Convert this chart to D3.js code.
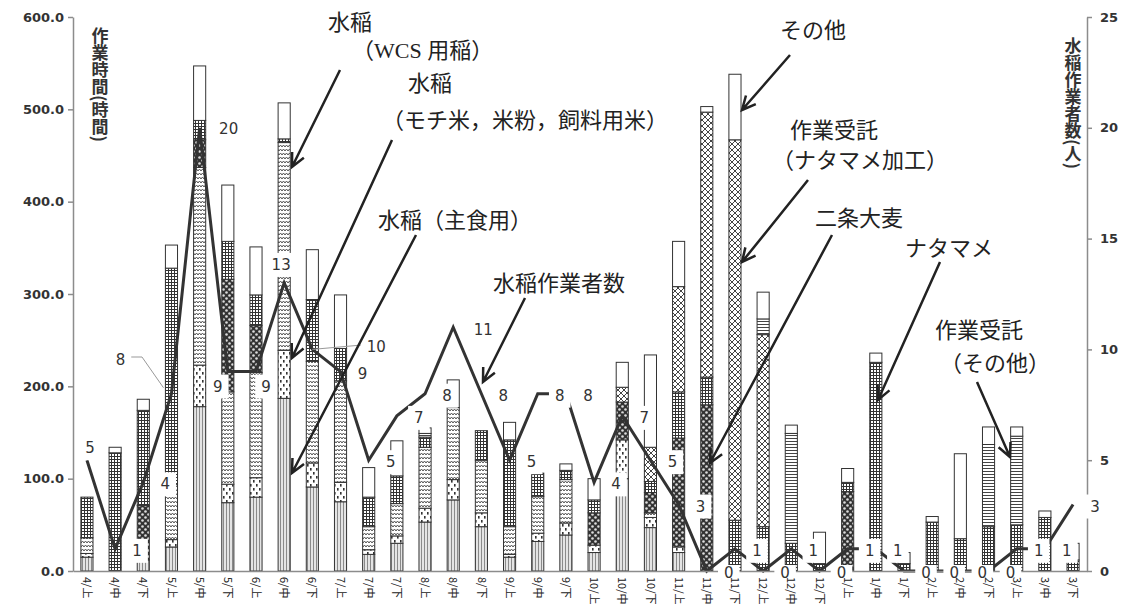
<!DOCTYPE html>
<html>
<head>
<meta charset="utf-8">
<script src="https://cdn.jsdelivr.net/npm/d3@7"></script>
<style>
  body { margin: 0; background: #fff; }
  svg { display: block; }
</style>
</head>
<body>
<svg id="chart" width="1132" height="605"></svg>
<script>
// ---- data (hours per 10-day period, workers per period) ----
const categories = ['4/上','4/中','4/下','5/上','5/中','5/下','6/上','6/中','6/下','7/上','7/中','7/下',
  '8/上','8/中','8/下','9/上','9/中','9/下','10/上','10/中','10/下','11/上','11/中','11/下',
  '12/上','12/中','12/下','1/上','1/中','1/下','2/上','2/中','2/下','3/上','3/中','3/下'];

const shushoku = [15,0,12,26,178,74,80,187,91,75,18,30,53,77,48,15,32,39,20,100,47,20,0,0,0,0,0,0,0,0,0,0,0,0,0,0];
const mochi    = [4,0,0,8,45,20,21,52,26,21,5,8,15,22,15,3,9,13,8,42,11,6,0,0,0,0,0,0,0,0,0,0,0,0,0,0];
const wcs      = [17,0,0,60,214,100,114,225,110,110,25,35,66,78,57,30,40,47,0,0,5,0,0,0,0,0,0,0,0,0,0,0,0,0,0,0];
const nijo     = [0,0,59,0,30,122,51,0,0,0,0,0,0,0,0,0,0,0,35,41,22,118,180,0,0,0,0,86,0,0,0,0,0,0,0,0];
const natamame = [44,128,103,234,21,41,33,4,67,35,32,30,11,0,32,94,25,10,14,0,12,50,30,55,48,30,8,10,226,8,53,35,48,50,58,12];
const kakou    = [0,0,0,0,0,0,0,0,0,0,0,0,0,0,0,0,0,0,0,16,37,114,287,412,208,0,0,0,0,0,0,0,0,0,0,0];
const jutaku   = [0,0,0,0,0,0,0,0,0,0,0,0,4,0,0,0,0,0,0,0,0,0,0,0,17,119,0,0,0,0,0,0,89,96,0,0];
const sonota   = [0,6,12,25,59,61,52,39,54,58,32,38,6,30,0,19,0,7,23,27,100,49,6,71,29,9,34,15,10,12,6,92,19,10,7,18];

const workers  = [5,1,4,8,20,9,9,13,10,9,5,7,8,11,8,5,8,8,4,7,5,3,0,1,0,1,0,1,1,0,0,0,0,1,1,3];

const leftTicks = [0,100,200,300,400,500,600];
const rightTicks = [0,5,10,15,20,25];

const seriesKeys = ['shushoku','mochi','wcs','nijo','natamame','kakou','jutaku','sonota'];
const seriesArrays = { shushoku, mochi, wcs, nijo, natamame, kakou, jutaku, sonota };

// ---- layout ----
const svg = d3.select('#chart');
const plotL = 73, plotR = 1087, plotT = 17, plotB = 571;

const x = d3.scaleBand().domain(categories).range([plotL, plotR]).paddingInner(0.57).paddingOuter(0.28);
const yL = d3.scaleLinear().domain([0, 600]).range([plotB, plotT]);
const yR = d3.scaleLinear().domain([0, 25]).range([plotB, plotT]);
const cx = c => x(c) + x.bandwidth() / 2;

// ---- fill patterns ----
const defs = svg.append('defs');
function pattern(id, w, h, bg, draw) {
  const p = defs.append('pattern').attr('id', id)
    .attr('patternUnits', 'userSpaceOnUse').attr('width', w).attr('height', h);
  p.append('rect').attr('width', w).attr('height', h).attr('fill', bg);
  draw(p);
}
pattern('p-shushoku', 3, 3, '#e4e4e4', p => {
  p.append('rect').attr('x', 1).attr('width', 1).attr('height', 3).attr('fill', '#8a8a8a');
});
pattern('p-mochi', 6, 8, '#fff', p => {
  p.append('rect').attr('x', 1).attr('y', 0).attr('width', 1.6).attr('height', 2.6).attr('fill', '#333');
  p.append('rect').attr('x', 4).attr('y', 4).attr('width', 1.6).attr('height', 2.6).attr('fill', '#333');
});
pattern('p-wcs', 6, 4, '#fff', p => {
  p.append('path').attr('d', 'M0,3 L1.5,1 L3,3 L4.5,1 L6,3').attr('fill', 'none')
    .attr('stroke', '#555').attr('stroke-width', 1);
});
pattern('p-nijo', 6, 6, '#333', p => {
  p.append('circle').attr('cx', 1.5).attr('cy', 1.5).attr('r', 1.3).attr('fill', '#ddd');
  p.append('circle').attr('cx', 4.5).attr('cy', 4.5).attr('r', 1.3).attr('fill', '#ddd');
});
pattern('p-natamame', 3, 3, '#fff', p => {
  p.append('path').attr('d', 'M0,0.5H3M0.5,0V3').attr('stroke', '#333').attr('stroke-width', 1);
});
pattern('p-kakou', 6, 6, '#fff', p => {
  p.append('path').attr('d', 'M0,0L6,6M6,0L0,6').attr('stroke', '#444').attr('stroke-width', 1);
});
pattern('p-jutaku', 3, 3, '#fff', p => {
  p.append('path').attr('d', 'M0,0.5H3').attr('stroke', '#444').attr('stroke-width', 1);
});

// ---- stacked bars ----
const table = categories.map((c, i) => {
  const row = { cat: c };
  seriesKeys.forEach(k => row[k] = seriesArrays[k][i]);
  return row;
});
const stacked = d3.stack().keys(seriesKeys)(table);

svg.append('g')
  .selectAll('g')
  .data(stacked)
  .join('g')
  .attr('fill', d => d.key === 'sonota' ? '#fff' : `url(#p-${d.key})`)
  .selectAll('rect')
  .data(d => d.filter(s => s[1] - s[0] > 0))
  .join('rect')
  .attr('x', d => x(d.data.cat))
  .attr('y', d => yL(d[1]))
  .attr('width', x.bandwidth())
  .attr('height', d => yL(d[0]) - yL(d[1]))
  .attr('stroke', '#333')
  .attr('stroke-width', 1);

// ---- workers line ----
const line = d3.line().x((d, i) => cx(categories[i])).y(d => yR(d));
svg.append('path')
  .datum(workers)
  .attr('d', line)
  .attr('fill', 'none')
  .attr('stroke', '#333')
  .attr('stroke-width', 3)
  .attr('stroke-linejoin', 'miter');

// ---- axes ----
const axisColor = '#8c8c8c';
const gL = svg.append('g')
  .attr('transform', `translate(${plotL},0)`)
  .call(d3.axisLeft(yL).tickValues(leftTicks).tickFormat(d3.format('.1f')).tickSize(5).tickSizeOuter(0).tickPadding(4));
const gR = svg.append('g')
  .attr('transform', `translate(${plotR},0)`)
  .call(d3.axisRight(yR).tickValues(rightTicks).tickSize(5).tickSizeOuter(0).tickPadding(8));
[gL, gR].forEach(g => {
  g.select('.domain').attr('stroke', axisColor).attr('stroke-width', 1.5);
  g.selectAll('.tick line').attr('stroke', axisColor).attr('stroke-width', 1.5);
  g.selectAll('.tick text').attr('fill', '#333')
    .style('font-family', '"DejaVu Sans", sans-serif').style('font-size', '13px').style('font-weight', 'bold');
});

const gX = svg.append('g')
  .attr('transform', `translate(0,${plotB})`)
  .call(d3.axisBottom(x).tickSize(0).tickSizeOuter(0));
gX.select('.domain').attr('stroke', axisColor).attr('stroke-width', 1.5);
gX.selectAll('.tick text')
  .attr('transform', 'rotate(90)')
  .attr('x', 6).attr('y', 0).attr('dy', '0.35em')
  .style('text-anchor', 'start')
  .attr('fill', '#222')
  .style('font-family', '"Noto Sans CJK JP", sans-serif')
  .style('font-size', '11px');

// ---- axis titles (vertical) ----
svg.append('text')
  .attr('x', 100).attr('y', 27)
  .style('writing-mode', 'vertical-rl')
  .style('font-family', '"Noto Sans CJK JP", sans-serif')
  .style('font-size', '17px').style('font-weight', 'bold')
  .attr('fill', '#333')
  .text('作業時間(時間)');
svg.append('text')
  .attr('x', 1073).attr('y', 37)
  .style('writing-mode', 'vertical-rl')
  .style('font-family', '"Noto Sans CJK JP", sans-serif')
  .style('font-size', '17px').style('font-weight', 'bold')
  .attr('fill', '#333')
  .text('水稲作業者数(人)');

// ---- data labels on the line ----
const labelOffset = { 0: [3, -12], 3: [-51, -34], 4: [29, 1], 5: [-10, 15], 6: [10, 15],
  7: [-3, -18], 8: [64, -2], 13: [30, 3] };
const labelG = svg.append('g');
// leader lines
const leaders = [
  [[cx(categories[3]) - 8, yR(workers[3]) - 6], [142, 357], [130, 357]],
  [[cx(categories[8]), yR(workers[8])], [362, 345]]
];
leaders.forEach(pts => {
  labelG.append('path').attr('d', d3.line()(pts)).attr('fill', 'none')
    .attr('stroke', '#999').attr('stroke-width', 1);
});
workers.forEach((v, i) => {
  const [dx, dy] = labelOffset[i] || [22, 2];
  const lx = cx(categories[i]) + dx, ly = yR(v) + dy;
  const g = labelG.append('g');
  const t = g.append('text')
    .attr('x', lx).attr('y', ly)
    .attr('text-anchor', 'middle').attr('dominant-baseline', 'central')
    .style('font-family', '"DejaVu Sans", sans-serif').style('font-size', '15px')
    .attr('fill', '#333')
    .text(v);
  const b = t.node().getBBox();
  const boxH = v === 0 ? 16 : 24;
  g.insert('rect', 'text')
    .attr('x', b.x - 6).attr('y', ly - boxH / 2)
    .attr('width', b.width + 12).attr('height', boxH)
    .attr('fill', '#fff');
});

// keep the period labels above the label boxes
const gXTop = svg.append('g').attr('transform', `translate(0,${plotB})`);
gX.selectAll('.tick').each(function () { gXTop.node().appendChild(this); });

// ---- annotations ----
const annFont = '"Liberation Serif", "Noto Sans CJK JP", serif';
const annTexts = [
  ['水稲', 328, 30], ['（WCS 用稲）', 352, 58],
  ['水稲', 408, 91], ['（モチ米，米粉，飼料用米）', 382, 128],
  ['水稲（主食用）', 378, 228],
  ['水稲作業者数', 493, 291],
  ['その他', 780, 38],
  ['作業受託', 790, 138], ['（ナタマメ加工）', 772, 168],
  ['二条大麦', 815, 226],
  ['ナタマメ', 905, 256],
  ['作業受託', 935, 338], ['（その他）', 940, 371]
];
const annG = svg.append('g');
annG.selectAll('text')
  .data(annTexts)
  .join('text')
  .attr('x', d => d[1]).attr('y', d => d[2])
  .style('font-family', annFont).style('font-size', '22px')
  .attr('fill', '#222')
  .text(d => d[0]);

const arrows = [
  [340, 70, 292, 167],
  [392, 140, 292, 358],
  [416, 235, 292, 473],
  [525, 298, 483, 382],
  [790, 55, 742, 110],
  [808, 180, 742, 262],
  [832, 235, 710, 463],
  [940, 262, 878, 400],
  [977, 382, 1010, 457]
];
arrows.forEach(([x1, y1, x2, y2]) => {
  const a = Math.atan2(y2 - y1, x2 - x1), len = 15, spread = 0.45;
  const h1 = [x2 - len * Math.cos(a - spread), y2 - len * Math.sin(a - spread)];
  const h2 = [x2 - len * Math.cos(a + spread), y2 - len * Math.sin(a + spread)];
  annG.append('path')
    .attr('d', `M${x1},${y1}L${x2},${y2}M${h1[0]},${h1[1]}L${x2},${y2}L${h2[0]},${h2[1]}`)
    .attr('fill', 'none').attr('stroke', '#222').attr('stroke-width', 2.5);
});
</script>
</body>
</html>
